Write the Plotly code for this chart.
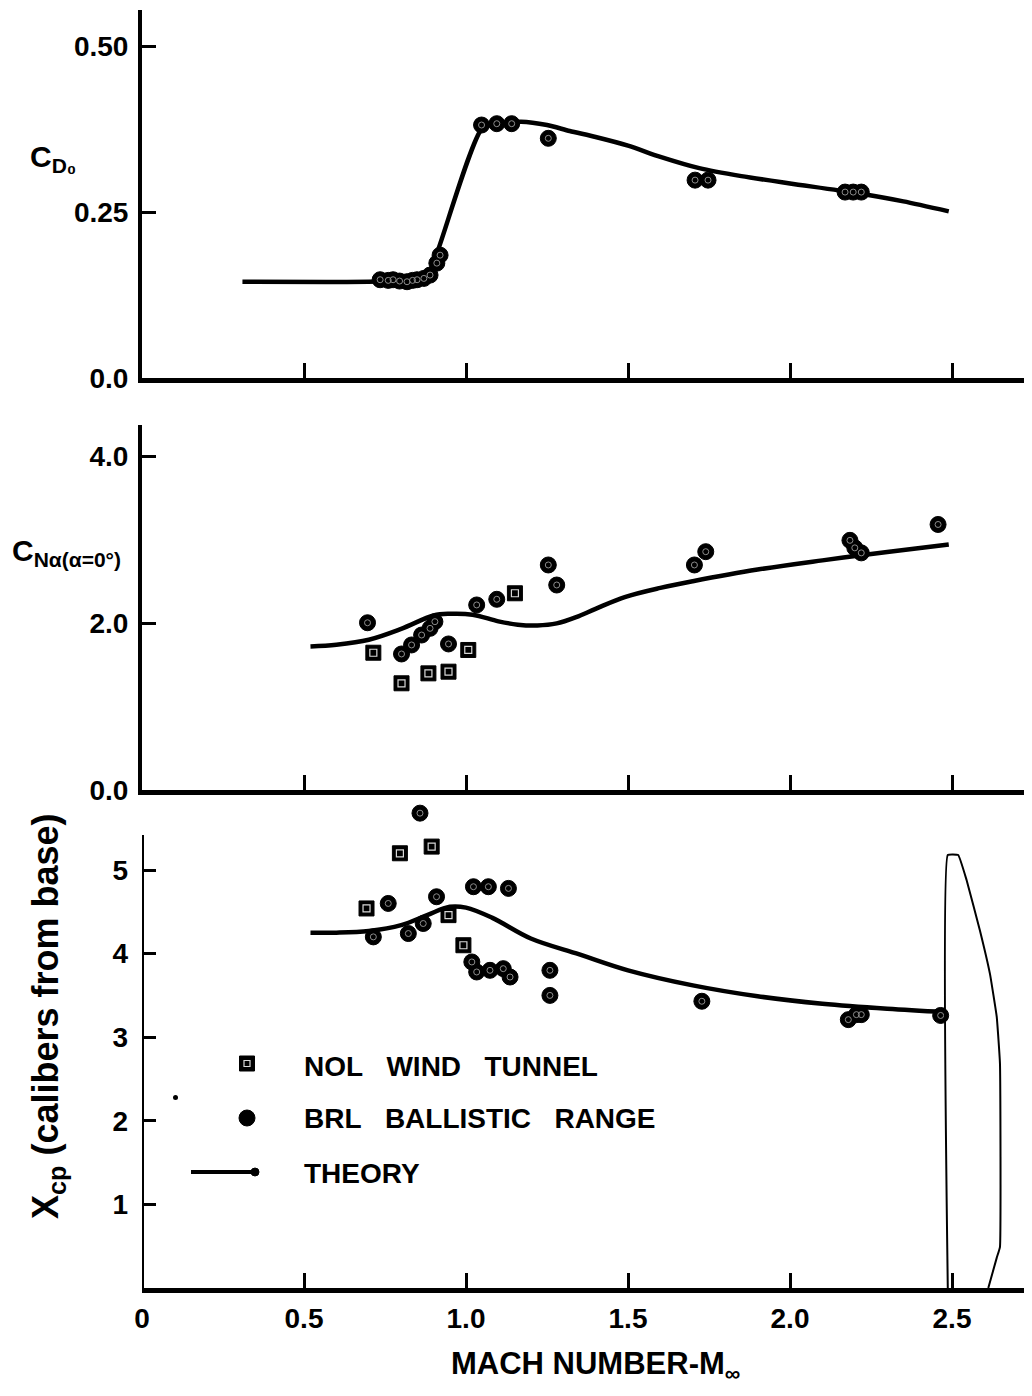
import plotly.graph_objects as go

W, H = 1032, 1396
OFF = 8  # the page body margin shifts the figure by this many pixels
FONT = "Liberation Sans, Arial, sans-serif"

# ---------------- data ----------------
# Top panel: zero-lift drag coefficient C_D0
cd_brl_mach = [0.735, 0.760, 0.775, 0.795, 0.818, 0.835, 0.849, 0.870, 0.889, 0.910, 0.920,
               1.048, 1.095, 1.141, 1.254, 1.707, 1.747, 2.170, 2.195, 2.220]
cd_brl_val = [0.148, 0.147, 0.148, 0.146, 0.145, 0.147, 0.148, 0.150, 0.155, 0.173, 0.185,
              0.381, 0.383, 0.383, 0.361, 0.298, 0.298, 0.280, 0.280, 0.280]
cd_theory_mach = [0.31, 0.70, 0.84, 0.87, 0.89, 1.05, 1.10, 1.17, 1.25, 1.32, 1.40, 1.50,
                  1.60, 1.72, 1.85, 2.00, 2.20, 2.35, 2.49]
cd_theory_val = [0.145, 0.145, 0.147, 0.152, 0.162, 0.376, 0.383, 0.386, 0.381, 0.372, 0.363,
                 0.350, 0.333, 0.316, 0.304, 0.293, 0.279, 0.266, 0.251]

# Middle panel: normal force slope C_N_alpha
cn_nol_mach = [0.714, 0.801, 0.884, 0.946, 1.007, 1.151]
cn_nol_val = [1.644, 1.278, 1.397, 1.417, 1.677, 2.356]
cn_brl_mach = [0.696, 0.801, 0.832, 0.863, 0.889, 0.904, 0.946, 1.033, 1.095, 1.254, 1.280,
               1.705, 1.740, 2.185, 2.200, 2.220, 2.457]
cn_brl_val = [2.003, 1.629, 1.737, 1.856, 1.936, 2.016, 1.749, 2.216, 2.284, 2.695, 2.455,
              2.695, 2.854, 2.990, 2.900, 2.840, 3.180]
cn_theory_mach = [0.52, 0.60, 0.70, 0.80, 0.90, 0.95, 1.02, 1.10, 1.16, 1.22, 1.28, 1.34,
                  1.40, 1.49, 1.60, 1.70, 1.90, 2.10, 2.30, 2.49]
cn_theory_val = [1.72, 1.74, 1.80, 1.93, 2.09, 2.11, 2.10, 2.02, 1.98, 1.97, 1.995, 2.07,
                 2.17, 2.31, 2.42, 2.50, 2.64, 2.75, 2.85, 2.94]

# Bottom panel: centre of pressure X_cp (calibers from base)
xcp_nol_mach = [0.693, 0.796, 0.894, 0.946, 0.992]
xcp_nol_val = [4.54, 5.20, 5.28, 4.46, 4.10]
xcp_brl_mach = [0.714, 0.760, 0.822, 0.858, 0.868, 0.909, 1.018, 1.033, 1.023, 1.069, 1.131,
                1.074, 1.115, 1.136, 1.259, 1.259, 1.728, 2.180, 2.205, 2.220, 2.465]
xcp_brl_val = [4.20, 4.60, 4.24, 5.68, 4.36, 4.68, 3.90, 3.78, 4.80, 4.80, 4.78,
               3.80, 3.82, 3.72, 3.80, 3.50, 3.43, 3.21, 3.27, 3.27, 3.26]
xcp_theory_mach = [0.52, 0.60, 0.70, 0.80, 0.88, 0.95, 1.00, 1.08, 1.20, 1.35, 1.50, 1.70,
                   1.90, 2.10, 2.30, 2.48]
xcp_theory_val = [4.25, 4.25, 4.27, 4.34, 4.46, 4.56, 4.55, 4.43, 4.18, 3.99, 3.80, 3.62,
                  3.49, 3.40, 3.34, 3.30]

# projectile nose outline drawn at the right of the bottom panel
outline_mach = [2.487, 2.487, 2.519, 2.545, 2.586, 2.617, 2.638, 2.648, 2.648, 2.638, 2.612]
outline_val = [0.0, 5.18, 5.18, 4.88, 4.28, 3.76, 3.245, 2.69, 0.49, 0.36, 0.0]

x_ticks = [0, 0.5, 1.0, 1.5, 2.0, 2.5]
x_tick_text = ["0", "0.5", "1.0", "1.5", "2.0", "2.5"]
cd_ticks = [0, 0.25, 0.50]
cd_tick_text = ["0.0", "0.25", "0.50"]
cn_ticks = [0, 2, 4]
cn_tick_text = ["0.0", "2.0", "4.0"]
xcp_ticks = [1, 2, 3, 4, 5]
xcp_tick_text = ["1", "2", "3", "4", "5"]


# ---------------- helpers (screen pixel -> paper) ----------------
def px(x):
    return (x - OFF) / W


def py(y):
    return 1 - (y - OFF) / H


X_MAX = (W + OFF - 142) / 324.0
fig = go.Figure()


def add_theory(xs, ys, xa, ya, smooth=1.0):
    fig.add_trace(go.Scatter(x=xs, y=ys, xaxis=xa, yaxis=ya, mode="lines",
                             line=dict(color="black", width=4.5, shape="spline", smoothing=smooth),
                             showlegend=False, hoverinfo="skip"))


def add_circles(xs, ys, xa, ya):
    fig.add_trace(go.Scatter(x=xs, y=ys, xaxis=xa, yaxis=ya, mode="markers",
                             marker=dict(symbol="circle", size=16, color="black",
                                         line=dict(color="black", width=1)),
                             showlegend=False))
    fig.add_trace(go.Scatter(x=xs, y=ys, xaxis=xa, yaxis=ya, mode="markers",
                             marker=dict(symbol="circle-open", size=6, color="#8c8c8c",
                                         line=dict(color="#8c8c8c", width=1)),
                             showlegend=False, hoverinfo="skip"))


def add_squares(xs, ys, xa, ya):
    fig.add_trace(go.Scatter(x=xs, y=ys, xaxis=xa, yaxis=ya, mode="markers",
                             marker=dict(symbol="square", size=15, color="black",
                                         line=dict(color="black", width=1)),
                             showlegend=False))
    fig.add_trace(go.Scatter(x=xs, y=ys, xaxis=xa, yaxis=ya, mode="markers",
                             marker=dict(symbol="square-open", size=7, color="#d8d8d8",
                                         line=dict(color="#d8d8d8", width=1.2)),
                             showlegend=False, hoverinfo="skip"))


# top
add_theory(cd_theory_mach, cd_theory_val, "x", "y", smooth=0.7)
add_circles(cd_brl_mach, cd_brl_val, "x", "y")
# middle
add_theory(cn_theory_mach, cn_theory_val, "x2", "y2")
add_squares(cn_nol_mach, cn_nol_val, "x2", "y2")
add_circles(cn_brl_mach, cn_brl_val, "x2", "y2")
# bottom
add_theory(xcp_theory_mach, xcp_theory_val, "x3", "y3")
add_squares(xcp_nol_mach, xcp_nol_val, "x3", "y3")
add_circles(xcp_brl_mach, xcp_brl_val, "x3", "y3")
fig.add_trace(go.Scatter(x=outline_mach, y=outline_val, xaxis="x3", yaxis="y3", mode="lines",
                         line=dict(color="black", width=2, shape="spline", smoothing=0.3),
                         showlegend=False, hoverinfo="skip"))

tick_font = dict(family=FONT, size=28, color="black", weight="bold")

xcommon = dict(range=[0, X_MAX], domain=[px(142), 1], showline=True, linecolor="black",
               linewidth=5, ticks="inside", ticklen=15, tickwidth=3, tickcolor="black",
               showgrid=False, zeroline=False, tickvals=x_ticks, ticktext=x_tick_text,
               tickfont=tick_font, fixedrange=True, automargin=False)
ycommon = dict(showline=True, linecolor="black", linewidth=4, ticks="inside", ticklen=14,
               tickwidth=3, tickcolor="black", showgrid=False, zeroline=False,
               tickfont=tick_font, ticklabelstandoff=4, automargin=False, fixedrange=True)

fig.update_layout(
    width=W, height=H, margin=dict(l=0, r=0, t=0, b=0, autoexpand=False),
    paper_bgcolor="white", plot_bgcolor="white", showlegend=False,
    xaxis=dict(xcommon, anchor="y", showticklabels=False),
    xaxis2=dict(xcommon, anchor="y2", showticklabels=False),
    xaxis3=dict(xcommon, anchor="y3", showticklabels=True, ticklabelstandoff=1),
    yaxis=dict(ycommon, anchor="x", domain=[py(378), py(10)], range=[0, (378 - 10) / 664.0],
               tickvals=cd_ticks, ticktext=cd_tick_text),
    yaxis2=dict(ycommon, anchor="x2", domain=[py(790), py(425)], range=[0, (790 - 425) / 83.5],
                tickvals=cn_ticks, ticktext=cn_tick_text),
    yaxis3=dict(ycommon, anchor="x3", domain=[py(1288), py(800)], range=[0, (1288 - 800) / 83.6],
                tickvals=xcp_ticks, ticktext=xcp_tick_text, showline=False,
                ticklabelstandoff=13),
)

shapes = []
# bottom panel y axis line (stops below the highest data point)
shapes.append(dict(type="line", xref="x3", yref="y3", x0=0, x1=0, y0=0, y1=(1288 - 835) / 83.6,
                   line=dict(color="black", width=4)))

# legend symbols
shapes.append(dict(type="rect", xref="paper", yref="paper", x0=px(239.5), x1=px(254.5),
                   y0=py(1071), y1=py(1056), fillcolor="black", line=dict(color="black", width=1)))
shapes.append(dict(type="rect", xref="paper", yref="paper", x0=px(244), x1=px(250),
                   y0=py(1066.5), y1=py(1060.5), fillcolor="rgba(0,0,0,0)",
                   line=dict(color="#d8d8d8", width=1.2)))
shapes.append(dict(type="circle", xref="paper", yref="paper", x0=px(239), x1=px(255),
                   y0=py(1126), y1=py(1110), fillcolor="black", line=dict(color="black", width=1)))
shapes.append(dict(type="line", xref="paper", yref="paper", x0=px(191), x1=px(255),
                   y0=py(1172), y1=py(1172), line=dict(color="black", width=4)))
shapes.append(dict(type="circle", xref="paper", yref="paper", x0=px(251), x1=px(259),
                   y0=py(1176), y1=py(1168), fillcolor="black", line=dict(color="black", width=1)))
# small speck in the scan
shapes.append(dict(type="circle", xref="paper", yref="paper", x0=px(173), x1=px(178),
                   y0=py(1100), y1=py(1095), fillcolor="black", line=dict(color="black", width=0)))
fig.update_layout(shapes=shapes)

lab_font = dict(family=FONT, size=28, color="black", weight="bold")
nb = "\u00a0"
annotations = [
    dict(text="C<sub>D₀</sub>", x=px(28), y=py(158), xanchor="left", yanchor="middle",
         font=dict(family=FONT, size=30, color="black", weight="bold")),
    dict(text="C<sub>Nα(α=0°)</sub>", x=px(10), y=py(552), xanchor="left", yanchor="middle",
         font=dict(family=FONT, size=30, color="black", weight="bold")),
    dict(text="X<sub>cp</sub> (calibers from base)", x=px(48), y=py(1016), xanchor="center",
         yanchor="middle", textangle=-90,
         font=dict(family=FONT, size=36, color="black", weight="bold")),
    dict(text="MACH NUMBER-M<sub>∞</sub>", x=px(595), y=py(1366), xanchor="center",
         yanchor="middle", font=dict(family=FONT, size=31, color="black", weight="bold")),
    dict(text="NOL" + nb * 3 + "WIND" + nb * 3 + "TUNNEL", x=px(302), y=py(1066),
         xanchor="left", yanchor="middle", font=lab_font),
    dict(text="BRL" + nb * 3 + "BALLISTIC" + nb * 3 + "RANGE", x=px(302), y=py(1118),
         xanchor="left", yanchor="middle", font=lab_font),
    dict(text="THEORY", x=px(302), y=py(1173), xanchor="left", yanchor="middle", font=lab_font),
]
for a in annotations:
    a.update(xref="paper", yref="paper", showarrow=False)
fig.update_layout(annotations=annotations)

fig.write_html("out.html")
